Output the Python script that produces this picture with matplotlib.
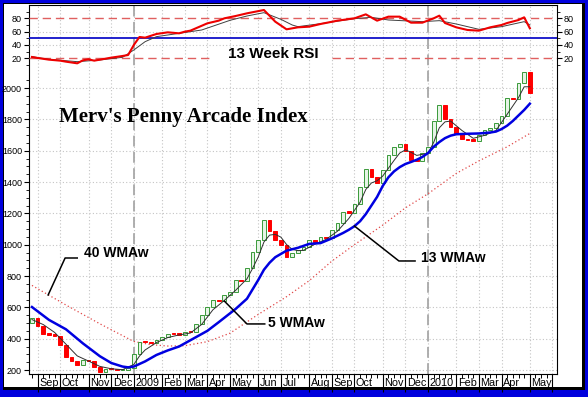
import datetime as dt
import matplotlib
matplotlib.use("Agg")
import matplotlib.pyplot as plt
import matplotlib.dates as mdates
import matplotlib.transforms as mtransforms
from matplotlib.patches import Rectangle
from matplotlib.ticker import FixedLocator, NullFormatter
import pandas as pd

plt.rcParams['font.family'] = ['Liberation Sans', 'DejaVu Sans']

# weekly candles, first week ending 2008-08-29
first_week = "2008-08-29"
opens = [497, 530, 480, 430, 425, 420, 360, 285, 258, 235,
         262, 258, 218, 188, 208, 205, 200, 202, 210, 300,
         380, 376, 370, 392, 412, 432, 428, 426, 445, 440,
         495, 550, 605, 645, 640, 680, 700, 775, 768, 850,
         955, 1030, 1160, 1085, 1030, 1000, 920, 945, 965, 985,
         1030, 1020, 1047, 1042, 1094, 1136, 1210, 1204, 1260, 1370,
         1480, 1430, 1392, 1477, 1572, 1626, 1643, 1600, 1540, 1536,
         1583, 1626, 1787, 1891, 1800, 1753, 1706, 1672, 1668, 1665,
         1700, 1732, 1745, 1775, 1821, 1934, 1928, 2030, 2104]
closes = [530, 480, 430, 425, 420, 360, 285, 258, 235, 262,
          258, 218, 188, 208, 205, 200, 202, 210, 300, 380,
          376, 370, 392, 412, 432, 428, 426, 445, 440, 495,
          550, 605, 645, 640, 680, 700, 775, 768, 850, 955,
          1030, 1160, 1085, 1030, 1000, 920, 945, 965, 985, 1030,
          1020, 1047, 1042, 1094, 1136, 1210, 1204, 1260, 1370, 1480,
          1430, 1392, 1477, 1572, 1626, 1643, 1600, 1540, 1536, 1583,
          1626, 1787, 1891, 1800, 1753, 1706, 1672, 1668, 1665, 1700,
          1732, 1745, 1775, 1821, 1934, 1928, 2030, 2104, 1966]

# moving averages (week number -> value)
wma5_wk = [0, 2, 4, 6, 8, 10, 12, 14, 16, 18, 19, 20, 22, 24, 26, 28, 30, 32, 34,
           36, 38, 39, 40, 41, 42, 43, 44, 45, 46, 47, 48, 50, 52, 54, 56, 58, 59,
           60, 61, 62, 64, 65, 66, 67, 68, 70, 71, 72, 73, 74, 76, 78, 80, 82, 84,
           86, 87, 88]
wma5 = [522, 490, 440, 365, 290, 257, 223, 208, 202, 235, 289, 328, 375, 407, 424, 436, 491, 585, 644,
        709, 782, 849, 922, 1017, 1061, 1066, 1048, 1001, 970, 962, 964, 1003, 1034, 1086, 1167, 1271, 1352,
        1394, 1408, 1438, 1538, 1585, 1605, 1590, 1570, 1583, 1653, 1746, 1784, 1789, 1729, 1679, 1698, 1728, 1833,
        1939, 2008, 2008]

wma13_wk = [0, 3, 6, 9, 12, 14, 16, 17, 18, 20, 22, 24, 26, 29, 31, 33, 36, 38, 40,
            41, 42, 43, 45, 47, 49, 51, 53, 55, 56, 57, 58, 59, 60, 61, 62, 63, 64,
            65, 66, 67, 68, 69, 70, 71, 72, 73, 74, 75, 77, 79, 81, 82, 83, 84, 85,
            86, 87, 88]
wma13 = [602, 520, 460, 370, 288, 245, 222, 217, 222, 255, 296, 325, 350, 410, 450, 505, 590, 655, 775,
         840, 885, 920, 962, 980, 1005, 1010, 1040, 1075, 1095, 1118, 1150, 1195, 1250, 1305, 1375, 1430, 1468,
         1495, 1515, 1528, 1542, 1560, 1585, 1625, 1655, 1680, 1696, 1705, 1708, 1710, 1716, 1722, 1738, 1760, 1790,
         1825, 1860, 1900]

wma40_wk = [0, 6, 12, 18, 21, 24, 27, 31, 35, 40, 45, 49, 53, 57, 62, 66, 70, 75, 79, 84, 88]
wma40 = [740, 615, 495, 382, 362, 353, 355, 381, 435, 555, 668, 770, 895, 1000, 1125, 1235, 1325, 1455,
         1535, 1625, 1710]

# 13 week RSI and its signal line
rsi_wk = [0, 1, 3, 5, 6, 8, 9, 10, 11, 12, 14, 16, 17, 18, 19, 20, 22, 24, 26, 27, 28, 31, 33,
          34, 36, 38, 41, 43, 45, 47, 49, 51, 54, 57, 59, 61, 63, 65, 67, 69, 71, 72, 73, 75,
          77, 79, 81, 83, 84, 86, 87, 88]
rsi = [22, 20.5, 18, 16.5, 15, 12.5, 17, 18.5, 16.5, 18, 21, 23.5, 25, 40, 52, 51, 56.5, 59, 57.5, 60, 61.5, 72.5, 76.5,
       80, 83.5, 87.5, 92.5, 75, 63.5, 66.5, 67.5, 71.5, 76.5, 80, 86, 76.5, 82.5, 82.5, 73.5, 73.5, 80, 84, 73, 66.5,
       62.5, 61.5, 66.5, 70, 73, 77.5, 81.5, 65]
rsi_sig_wk = [0, 3, 8, 12, 16, 18, 20, 22, 26, 30, 35, 38, 41, 44, 46, 47, 51, 57, 60, 63, 69, 72, 75, 79, 83, 87, 88]
rsi_sig = [22.5, 18.5, 15, 17.5, 21.5, 32.5, 45, 52.5, 57.5, 62.5, 77, 83.5, 88.5, 78.5, 70, 67.5, 72, 79.5, 81.5,
           77.5, 75, 76.5, 71.5, 63.5, 67.5, 75, 70]

price_ticks = [200, 400, 600, 800, 1000, 1200, 1400, 1600, 1800, 2000]
rsi_ticks = [20, 40, 60, 80]

W, H = 588, 397


def px_box(x0, y0, x1, y1):
    # pixel box (top-left origin) -> figure fraction rect
    return (x0 / W, 1 - y1 / H, (x1 - x0) / W, (y1 - y0) / H)


fig = plt.figure(figsize=(W / 100, H / 100), dpi=100)
fig.patch.set_facecolor('#0000dd')
fig.add_artist(Rectangle(px_box(2.7, 2.7, 585, 390)[:2], *px_box(2.7, 2.7, 585, 390)[2:],
                         transform=fig.transFigure, facecolor='black', edgecolor='none', zorder=-10))
fig.add_artist(Rectangle(px_box(3.5, 3.5, 581.7, 386.7)[:2], *px_box(3.5, 3.5, 581.7, 386.7)[2:],
                         transform=fig.transFigure, facecolor='white', edgecolor='none', zorder=-9))

ax = fig.add_axes(px_box(29, 5, 557, 374))
weeks = pd.date_range(first_week, periods=len(closes), freq="7D")

# x scale: Jan 1 2009 at px 133, Jan 1 2010 at px 428
jan09 = mdates.date2num(dt.datetime(2009, 1, 1))
days_per_px = 365 / 295
xlim = (jan09 - (133 - 29) * days_per_px, jan09 + (557 - 133) * days_per_px)

# candles
lows = [min(o, c) for o, c in zip(opens, closes)]
heights = [max(abs(c - o), 9) for o, c in zip(opens, closes)]
face = ['#e6f4e6' if c >= o else '#ff0000' for o, c in zip(opens, closes)]
edge = ['#3a9a3a' if c >= o else '#ff0000' for o, c in zip(opens, closes)]
ax.bar(weeks, heights, bottom=lows, width=4.6, color=face, edgecolor=edge, linewidth=0.7, zorder=3)

ax.plot(weeks[wma40_wk], wma40, color='#e04848', lw=0.9, linestyle=(0, (1, 2)), zorder=2)
ax.plot(weeks[wma13_wk], wma13, color='#0000e0', lw=1.8, zorder=5)
ax.plot(weeks[wma5_wk], wma5, color='#303030', lw=0.7, zorder=4)

# grid / axes
tick_days = pd.date_range(first_week, "2010-06-04", freq="7D")
month_starts = [d for p, d in zip(tick_days[:-1], tick_days[1:]) if d.month != p.month]
ax.set_xlim(*xlim)
ax.xaxis.set_major_locator(FixedLocator(mdates.date2num(month_starts)))
ax.xaxis.set_minor_locator(FixedLocator(mdates.date2num(tick_days)))
ax.xaxis.set_major_formatter(NullFormatter())
ax.tick_params(axis='x', which='major', length=13, width=0.8, direction='out')
ax.tick_params(axis='x', which='minor', length=3, width=0.7, direction='out')

ax.set_ylim(174.5, 2530)
ax.set_yticks(price_ticks)
ax.yaxis.set_minor_locator(FixedLocator(list(range(150, 2051, 50))))
ax.tick_params(axis='y', which='both', left=True, right=True, labelleft=True, labelright=True,
               direction='out', labelsize=6.5, pad=1.5)
ax.tick_params(axis='y', which='major', length=3.5, width=0.8)
ax.tick_params(axis='y', which='minor', length=2, width=0.6)
ax.set_axisbelow(True)
ax.grid(True, which='major', color='#c4c4c4', linestyle=(0, (1, 2)), lw=0.8)
for sp in ax.spines.values():
    sp.set_linewidth(0.8)

for d in month_starts:
    if d.month == 1:
        ax.axvline(d, color='#a8a8a8', lw=1.3, dashes=(6, 3), zorder=1)

lab_tr = mtransforms.offset_copy(ax.get_xaxis_transform(), fig=fig, x=1.5, y=-4, units='dots')
for d in month_starts[:-1]:
    lab = str(d.year) if d.month == 1 else d.strftime('%b')
    ax.text(d, 0, lab, transform=lab_tr, ha='left', va='top', fontsize=7.8)

ax.text(dt.datetime(2009, 3, 4), 1812, "Merv's Penny Arcade Index", family='Liberation Serif',
        fontweight='bold', fontsize=15, ha='center', va='center')

# leader labels
ax.plot([dt.datetime(2008, 9, 18), dt.datetime(2008, 10, 9), dt.datetime(2008, 10, 24)], [679, 915, 915],
        color='black', lw=1.1, zorder=6)
ax.text(dt.datetime(2008, 11, 1), 947, '40 WMAw', fontsize=10, fontweight='bold', va='center')
ax.plot([dt.datetime(2009, 4, 24), dt.datetime(2009, 5, 22), dt.datetime(2009, 6, 13)], [640, 494, 494],
        color='black', lw=1.1, zorder=6)
ax.text(dt.datetime(2009, 6, 17), 500, '5 WMAw', fontsize=10, fontweight='bold', va='center')
ax.plot([dt.datetime(2009, 10, 2), dt.datetime(2009, 11, 26), dt.datetime(2009, 12, 16)], [1119, 896, 896],
        color='black', lw=1.1, zorder=6)
ax.text(dt.datetime(2009, 12, 23), 915, '13 WMAw', fontsize=10, fontweight='bold', va='center')

# RSI panel overlaid on top
ax2 = ax.twinx()
ax2.set_xlim(*xlim)
ax2.set_ylim(-453.6, 100)
ax2.set_yticks(rsi_ticks)
ax2.yaxis.set_minor_locator(FixedLocator([10, 30, 50, 70, 90]))
ax2.yaxis.set_ticks_position('both')
ax2.tick_params(axis='y', which='both', left=True, right=True, labelleft=True, labelright=True,
                direction='out', labelsize=6.5, pad=1.5)
ax2.tick_params(axis='y', which='major', length=3.5, width=0.8)
ax2.tick_params(axis='y', which='minor', length=2, width=0.6)
for sp in ax2.spines.values():
    sp.set_visible(False)
for lv in (40, 60):
    ax2.axhline(lv, color='#c4c4c4', linestyle=(0, (1, 2)), lw=0.8, zorder=1)
ax2.axhline(80, color='#e06060', lw=1.0, dashes=(6, 3.5), zorder=2)
ax2.axhline(20, xmin=0, xmax=(213 - 29) / 528, color='#e06060', lw=1.0, dashes=(6, 3.5), zorder=2)
ax2.axhline(20, xmin=(332 - 29) / 528, xmax=1, color='#e06060', lw=1.0, dashes=(6, 3.5), zorder=2)
ax2.axhline(50, color='#1010c8', lw=1.3, zorder=3)
ax2.plot(weeks[rsi_sig_wk], rsi_sig, color='#404040', lw=0.7, zorder=4)
ax2.plot(weeks[rsi_wk], rsi, color='#ee0000', lw=1.5, zorder=5)
ax2.text(dt.datetime(2009, 6, 24), 26.5, '13 Week RSI', fontsize=11, fontweight='bold',
         ha='center', va='center')

fig.savefig('out.png', dpi=100, facecolor=fig.get_facecolor())
